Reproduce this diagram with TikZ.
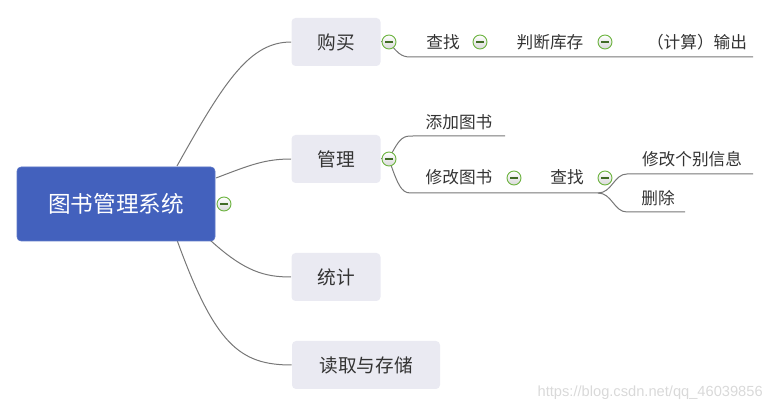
\documentclass[tikz,border=0pt]{standalone}
\usepackage{fontspec}
\setmainfont{Noto Sans CJK SC}
\newfontfamily\wmfont{Liberation Sans}
\usetikzlibrary{backgrounds}
\definecolor{rootblue}{HTML}{4361BD}
\definecolor{boxgray}{HTML}{EAEAF2}
\definecolor{toggreen}{HTML}{6CB33F}
\definecolor{linegray}{HTML}{777777}
\definecolor{txt}{HTML}{333333}
\begin{document}
\begin{tikzpicture}[x=0.75pt,y=-0.75pt,
  root/.style={rounded corners=3pt, fill=rootblue, draw=rootblue!85!white,
    minimum width=148.5pt, minimum height=55.5pt, text=white, font=\fontsize{17pt}{20pt}\selectfont},
  pbox/.style={rounded corners=3pt, fill=boxgray, minimum width=66.75pt, minimum height=36pt,
    text=txt, font=\fontsize{14pt}{17pt}\selectfont},
  leaf/.style={text=txt, font=\fontsize{12.5pt}{15pt}\selectfont, inner sep=0pt},
  tog/.style={circle, draw=toggreen, line width=0.7pt, minimum size=10.5pt, inner sep=0pt,
    top color=white, bottom color=gray!30,
    path picture={\draw[toggreen!60!black, line width=0.8pt]
      ([xshift=-2.8pt]path picture bounding box.center) -- ([xshift=2.8pt]path picture bounding box.center);}},
  conn/.style={draw=linegray, line width=0.75pt}]
\useasboundingbox (0,0) rectangle (768,413);

% main nodes
\node[root] (root) at (116,204) {图书管理系统};
\node[pbox] (buy) at (336,42) {购买};
\node[pbox] (mgmt) at (336,159) {管理};
\node[pbox] (stat) at (336,277) {统计};
\node[pbox, minimum width=111pt] (io) at (366,365) {读取与存储};

% leaves
\node[leaf] (find1) at (443,42) {查找};
\node[leaf] (judge) at (550,42) {判断库存};
\node[leaf] (out) at (697,42) {（计算）输出};
\node[leaf] (add) at (459,122) {添加图书};
\node[leaf] (mod) at (459,177) {修改图书};
\node[leaf] (find2) at (567,177) {查找};
\node[leaf] (modinfo) at (692,159) {修改个别信息};
\node[leaf] (del) at (658,198) {删除};

% toggles
\node[tog] (t0) at (224,204) {};
\node[tog] (t1) at (389,42) {};
\node[tog] (t2) at (480,42) {};
\node[tog] (t3) at (605,42) {};
\node[tog] (t4) at (389,159) {};
\node[tog] (t5) at (514,178) {};
\node[tog] (t6) at (605,178) {};

% connector points
\coordinate (r1) at (177,166);
\coordinate (r2) at (216,178);
\coordinate (r3) at (210,240);
\coordinate (r4) at (177,240);
\coordinate (u1a) at (413,57);
\coordinate (u1b) at (753,57);
\coordinate (u2a) at (413,136);
\coordinate (u2b) at (505,136);
\coordinate (u3a) at (413,193);
\coordinate (u3m) at (598,193);
\coordinate (u4a) at (627,174);
\coordinate (u4b) at (753,174);
\coordinate (u5a) at (627,212);
\coordinate (u5b) at (685,212);

\begin{scope}[on background layer]
\draw[conn] (r1) .. controls (225,80) and (250,42) .. (buy.west);
\draw[conn] (r2) .. controls (250,165) and (265,159) .. (mgmt.west);
\draw[conn] (r3) .. controls (245,272) and (265,277) .. (stat.west);
\draw[conn] (r4) .. controls (215,345) and (240,365) .. (io.west);
\draw[conn] (buy.east) -- (t1.center);
\draw[conn] (mgmt.east) -- (t4.center);
\draw[conn] (t1.center) .. controls (400,57) and (404,57) .. (u1a) -- (u1b);
\draw[conn] (t4.center) .. controls (400,136) and (404,136) .. (u2a) -- (u2b);
\draw[conn] (t4.center) .. controls (400,193) and (404,193) .. (u3a) -- (u3m);
\draw[conn] (u3m) .. controls (612,193) and (614,174) .. (u4a) -- (u4b);
\draw[conn] (u3m) .. controls (612,193) and (614,212) .. (u5a) -- (u5b);
\end{scope}

\node[anchor=east, text=gray!30, font=\wmfont\fontsize{11pt}{13pt}\selectfont, inner sep=0pt] (wm) at (763,393) {https://blog.csdn.net/qq\_46039856};
\end{tikzpicture}
\end{document}
